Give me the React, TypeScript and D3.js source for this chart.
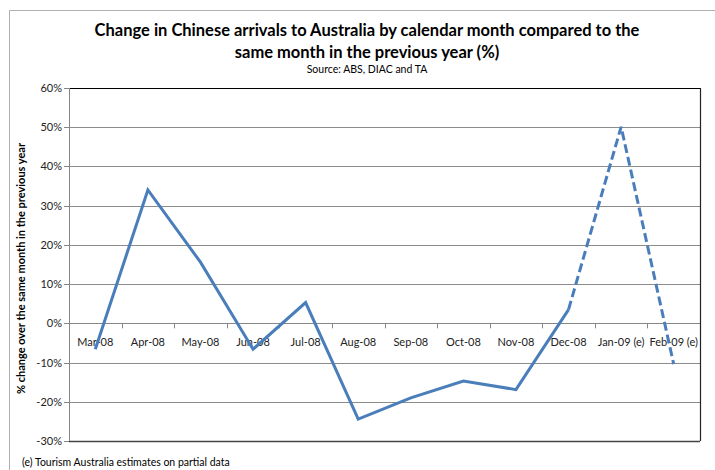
import React from "react";
import * as d3 from "d3";

const categories = ["Mar-08","Apr-08","May-08","Jun-08","Jul-08","Aug-08","Sep-08","Oct-08","Nov-08","Dec-08","Jan-09 (e)","Feb-09 (e)"];
const values = [-6.6, 34.0, 15.6, -6.6, 5.3, -24.4, -19.0, -14.7, -16.9, 3.5, 50.1, -10.4];
const estimated = [false,false,false,false,false,false,false,false,false,false,true,true];
const yTicks = [60, 50, 40, 30, 20, 10, 0, -10, -20, -30];
const titleLines = ["Change in Chinese arrivals to Australia by calendar month compared to the", "same month in the previous year (%)"];
const subtitle = "Source: ABS, DIAC and TA";
const yLabel = "% change over the same month in the previous year";
const footnote = "(e) Tourism Australia estimates on partial data";

const W = 715, H = 470;
const M = { left: 69, right: 700, top: 88, bottom: 441 };
const FONT = "Lato, 'Open Sans', sans-serif";
const BLUE = "#4A7EBB";

export default function App() {
  const x = d3.scaleBand<string>().domain(categories).range([M.left, M.right]);
  const y = d3.scaleLinear().domain([-30, 60]).range([M.bottom, M.top]);
  const pts = categories.map((c, i) => ({ x: (x(c) as number) + x.bandwidth() / 2, y: y(values[i]), e: estimated[i] }));
  const line = d3.line<{ x: number; y: number }>().x(d => d.x).y(d => d.y);
  const firstEst = estimated.indexOf(true);
  const solid = pts.slice(0, firstEst);
  const dashed = pts.slice(firstEst - 1);
  const y0 = y(0);

  return (
    <svg width={W} height={H} style={{ position: "absolute", left: 0, top: 0, background: "#fff" }} fontFamily={FONT}>
      <rect x={9.5} y={10.5} width={W + 10} height={H + 10} fill="#fff" stroke="#b0b0b0" />
      {titleLines.map((t, i) => (
        <text key={i} x={367} y={36 + i * 22} textAnchor="middle" fontWeight="bold" fontSize={16.5} fill="#000">{t}</text>
      ))}
      <text x={367} y={73} textAnchor="middle" fontSize={10.5} fill="#000">{subtitle}</text>
      {yTicks.map(t => (
        <line key={t} x1={M.left} x2={M.right} y1={Math.round(y(t)) + 0.5} y2={Math.round(y(t)) + 0.5} stroke="#8c8c8c" strokeWidth={1} />
      ))}
      <line x1={M.left} x2={M.right} y1={M.top + 0.5} y2={M.top + 0.5} stroke="#000" strokeWidth={1} />
      <line x1={M.right + 0.5} x2={M.right + 0.5} y1={M.top} y2={M.bottom} stroke="#222" strokeWidth={1.2} />
      <line x1={M.left} x2={M.right} y1={M.bottom + 0.5} y2={M.bottom + 0.5} stroke="#444" strokeWidth={1.5} />
      <line x1={M.left + 0.5} x2={M.left + 0.5} y1={M.top} y2={M.bottom} stroke="#868686" />
      {yTicks.map(t => (
        <g key={t}>
          <line x1={M.left - 5} x2={M.left} y1={Math.round(y(t)) + 0.5} y2={Math.round(y(t)) + 0.5} stroke="#868686" />
          <text x={M.left - 7} y={y(t) + 4} textAnchor="end" fontSize={11} fill="#222">{t}%</text>
        </g>
      ))}
      <line x1={M.left} x2={M.right} y1={Math.round(y0) + 0.5} y2={Math.round(y0) + 0.5} stroke="#868686" />
      {categories.map((c, i) => (
        <line key={"t" + i} x1={Math.round(x(c) as number) + 0.5} x2={Math.round(x(c) as number) + 0.5} y1={y0} y2={y0 + 5} stroke="#868686" />
      ))}
      {categories.map(c => (
        <text key={c} x={(x(c) as number) + x.bandwidth() / 2} y={y0 + 23} textAnchor="middle" fontSize={11} fill="#222">{c}</text>
      ))}
      <path d={line(solid) as string} fill="none" stroke={BLUE} strokeWidth={3} strokeLinejoin="miter" />
      <path d={line(dashed) as string} fill="none" stroke={BLUE} strokeWidth={3} strokeDasharray="9 4" />
      <text transform={`translate(25,${(M.top + M.bottom) / 2 + 4}) rotate(-90)`} textAnchor="middle" fontSize={11} fontWeight="bold" fill="#000">{yLabel}</text>
      <text x={22} y={466} fontSize={10.5} fill="#000">{footnote}</text>
    </svg>
  );
}
